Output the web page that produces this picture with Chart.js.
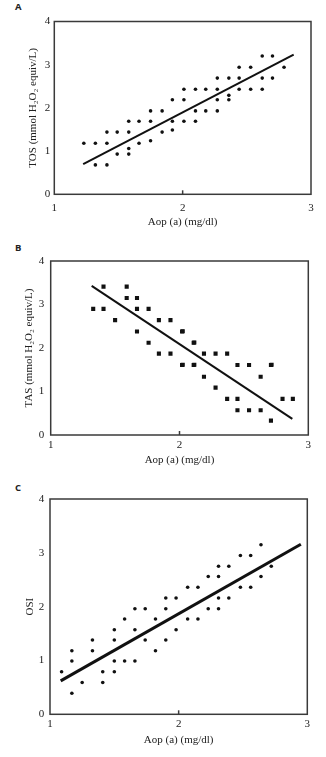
<!DOCTYPE html>
<html>
<head>
<meta charset="utf-8">
<script src="https://cdn.jsdelivr.net/npm/chart.js@4.4.1/dist/chart.umd.min.js"></script>
<style>
  html, body { margin: 0; padding: 0; background: #fff; }
  body { width: 326px; height: 757px; position: relative; overflow: hidden; }
  .panel { position: absolute; left: 0; width: 326px; }
  .tag { position: absolute; left: 15px; font: bold 9.5px "Open Sans", "DejaVu Sans", sans-serif; color: #222; line-height: 1; }
</style>
</head>
<body>
<div class="tag" style="top:2px">A</div>
<div class="tag" style="top:243px">B</div>
<div class="tag" style="top:483px">C</div>
<div class="panel" style="top:0;height:240px"><canvas id="chartTOS"></canvas></div>
<div class="panel" style="top:240px;height:240px"><canvas id="chartTAS"></canvas></div>
<div class="panel" style="top:480px;height:277px"><canvas id="chartOSI"></canvas></div>
<script>
// Axis ticks shared by all three panels
const aopTicks = [1, 2, 3];
const levelTicks = [0, 1, 2, 3, 4];

// A: total oxidant status vs Aop (a)
const aopTOS = [1.23, 1.32, 1.32, 1.41, 1.41, 1.41, 1.49, 1.49, 1.58, 1.58, 1.58, 1.58,
  1.66, 1.66, 1.75, 1.75, 1.75, 1.84, 1.84, 1.92, 1.92, 1.92, 2.01, 2.01, 2.01,
  2.10, 2.10, 2.10, 2.18, 2.18, 2.27, 2.27, 2.27, 2.27, 2.36, 2.36, 2.36,
  2.44, 2.44, 2.44, 2.53, 2.53, 2.62, 2.62, 2.62, 2.70, 2.70, 2.79];
const tosValues = [1.18, 1.18, 0.68, 1.44, 1.18, 0.68, 1.44, 0.93, 1.69, 1.44, 1.06, 0.93,
  1.69, 1.18, 1.93, 1.69, 1.24, 1.93, 1.44, 2.19, 1.69, 1.49, 2.43, 2.19, 1.69,
  2.43, 1.93, 1.69, 2.43, 1.93, 2.69, 2.43, 2.19, 1.93, 2.69, 2.29, 2.19,
  2.94, 2.69, 2.43, 2.94, 2.43, 3.20, 2.69, 2.43, 3.20, 2.69, 2.94];
const tosFitX = [1.225, 2.865];
const tosFitY = [0.70, 3.235];

// B: total antioxidant status vs Aop (a)
const aopTAS = [1.33, 1.41, 1.41, 1.50, 1.59, 1.59, 1.67, 1.67, 1.67, 1.76, 1.76,
  1.84, 1.84, 1.93, 1.93, 2.02, 2.025, 2.02, 2.025, 2.11, 2.115, 2.11, 2.115,
  2.19, 2.19, 2.28, 2.28, 2.37, 2.37, 2.45, 2.45, 2.45, 2.54, 2.54, 2.63, 2.63,
  2.71, 2.715, 2.71, 2.80, 2.88];
const tasValues = [2.90, 3.41, 2.90, 2.64, 3.41, 3.15, 3.15, 2.90, 2.38, 2.90, 2.12,
  2.64, 1.87, 2.64, 1.87, 2.38, 2.385, 1.61, 1.615, 2.12, 2.125, 1.61, 1.615,
  1.87, 1.34, 1.87, 1.09, 1.87, 0.83, 1.61, 0.83, 0.57, 1.61, 0.57, 1.34, 0.57,
  1.61, 1.615, 0.33, 0.83, 0.83];
const tasFitX = [1.318, 2.876];
const tasFitY = [3.43, 0.37];

// C: oxidative stress index vs Aop (a)
const aopOSI = [1.09, 1.17, 1.17, 1.17, 1.25, 1.33, 1.33, 1.41, 1.41, 1.50, 1.50, 1.50, 1.50,
  1.58, 1.58, 1.66, 1.66, 1.66, 1.74, 1.74, 1.82, 1.82, 1.90, 1.90, 1.90, 1.98, 1.98,
  2.07, 2.07, 2.15, 2.15, 2.23, 2.23, 2.31, 2.31, 2.31, 2.31, 2.39, 2.39,
  2.48, 2.48, 2.56, 2.56, 2.64, 2.64, 2.72];
const osiValues = [0.79, 1.18, 0.99, 0.39, 0.59, 1.38, 1.18, 0.79, 0.59, 1.57, 1.38, 0.99, 0.79,
  1.77, 0.99, 1.96, 1.57, 0.99, 1.96, 1.38, 1.77, 1.18, 2.16, 1.96, 1.38, 2.16, 1.57,
  2.36, 1.77, 2.36, 1.77, 2.56, 1.96, 2.75, 2.56, 2.16, 1.96, 2.75, 2.16,
  2.95, 2.36, 2.95, 2.36, 3.15, 2.56, 2.75];
const osiFitX = [1.083, 2.95];
const osiFitY = [0.62, 3.16];

const zip = (xs, ys) => xs.map((x, i) => ({ x: x, y: ys[i] }));
const serif = '"Liberation Serif", "Times New Roman", "DejaVu Serif", serif';
const ink = '#222';

// Closed frame around the plotting area plus the inward tick at Aop = 2
const framePlugin = {
  id: 'frame',
  afterDatasetsDraw(chart) {
    const { ctx, chartArea: a, scales } = chart;
    ctx.save();
    ctx.strokeStyle = '#3a3a3a';
    ctx.lineWidth = 1.5;
    ctx.strokeRect(a.left, a.top, a.right - a.left, a.bottom - a.top);
    const xm = scales.x.getPixelForValue(aopTicks[1]);
    ctx.beginPath();
    ctx.moveTo(xm, a.bottom);
    ctx.lineTo(xm, a.bottom - 4);
    ctx.stroke();
    ctx.restore();
  }
};

function makeChart(id, cfg) {
  return new Chart(document.getElementById(id), {
    type: 'scatter',
    data: {
      datasets: [
        {
          data: zip(cfg.xs, cfg.ys),
          pointStyle: cfg.pointStyle,
          pointRadius: cfg.pointRadius,
          pointBackgroundColor: '#111',
          pointBorderWidth: 0,
          showLine: false
        },
        {
          type: 'line',
          data: zip(cfg.fitX, cfg.fitY),
          borderColor: '#111',
          borderWidth: cfg.lineWidth,
          pointRadius: 0,
          fill: false
        }
      ]
    },
    options: {
      responsive: true,
      maintainAspectRatio: false,
      animation: false,
      events: [],
      layout: { padding: { top: cfg.padTop, right: cfg.padRight, left: 0, bottom: 0 } },
      plugins: { legend: { display: false }, tooltip: { enabled: false } },
      scales: {
        x: {
          type: 'linear',
          min: aopTicks[0],
          max: aopTicks[aopTicks.length - 1],
          afterBuildTicks: s => { s.ticks = aopTicks.map(v => ({ value: v })); },
          afterFit: s => { s.height = cfg.xAxisHeight; },
          grid: { display: false, drawTicks: false },
          border: { display: false },
          ticks: { padding: cfg.xTickPad, color: ink, font: { family: serif, size: 11 } },
          title: {
            display: true,
            text: 'Aop (a) (mg/dl)',
            color: ink,
            font: { family: serif, size: 11 },
            padding: { top: 0, bottom: cfg.xTitlePad }
          }
        },
        y: {
          type: 'linear',
          min: levelTicks[0],
          max: levelTicks[levelTicks.length - 1],
          afterBuildTicks: s => { s.ticks = levelTicks.map(v => ({ value: v })); },
          afterFit: s => { s.width = cfg.yAxisWidth; },
          grid: { display: false, drawTicks: false },
          border: { display: false },
          ticks: { padding: cfg.yTickPad, color: ink, font: { family: serif, size: 11 } },
          title: {
            display: true,
            text: cfg.yTitle,
            color: ink,
            font: { family: serif, size: 11 },
            padding: { top: cfg.yTitlePad, bottom: 0 }
          }
        }
      }
    },
    plugins: [framePlugin]
  });
}

makeChart('chartTOS', {
  xs: aopTOS, ys: tosValues, fitX: tosFitX, fitY: tosFitY,
  pointStyle: 'circle', pointRadius: 1.8, lineWidth: 2,
  padTop: 21.5, padRight: 15, xAxisHeight: 45.7, yAxisWidth: 54.3,
  xTickPad: 6.8, yTickPad: 4, xTitlePad: 11.7, yTitlePad: 26.4,
  yTitle: 'TOS (mmol H\u2082O\u2082 equiv/L)'
});

makeChart('chartTAS', {
  xs: aopTAS, ys: tasValues, fitX: tasFitX, fitY: tasFitY,
  pointStyle: 'rect', pointRadius: 2.9, lineWidth: 2,
  padTop: 21, padRight: 17.7, xAxisHeight: 45, yAxisWidth: 50.7,
  xTickPad: 3.4, yTickPad: 6.5, xTitlePad: 13.4, yTitlePad: 22.4,
  yTitle: 'TAS (mmol H\u2082O\u2082 equiv/L)'
});

makeChart('chartOSI', {
  xs: aopOSI, ys: osiValues, fitX: osiFitX, fitY: osiFitY,
  pointStyle: 'circle', pointRadius: 1.8, lineWidth: 3,
  padTop: 19, padRight: 18.7, xAxisHeight: 42.7, yAxisWidth: 50,
  xTickPad: 3.4, yTickPad: 5.7, xTitlePad: 10.4, yTitlePad: 23.4,
  yTitle: 'OSI'
});
</script>
</body>
</html>
